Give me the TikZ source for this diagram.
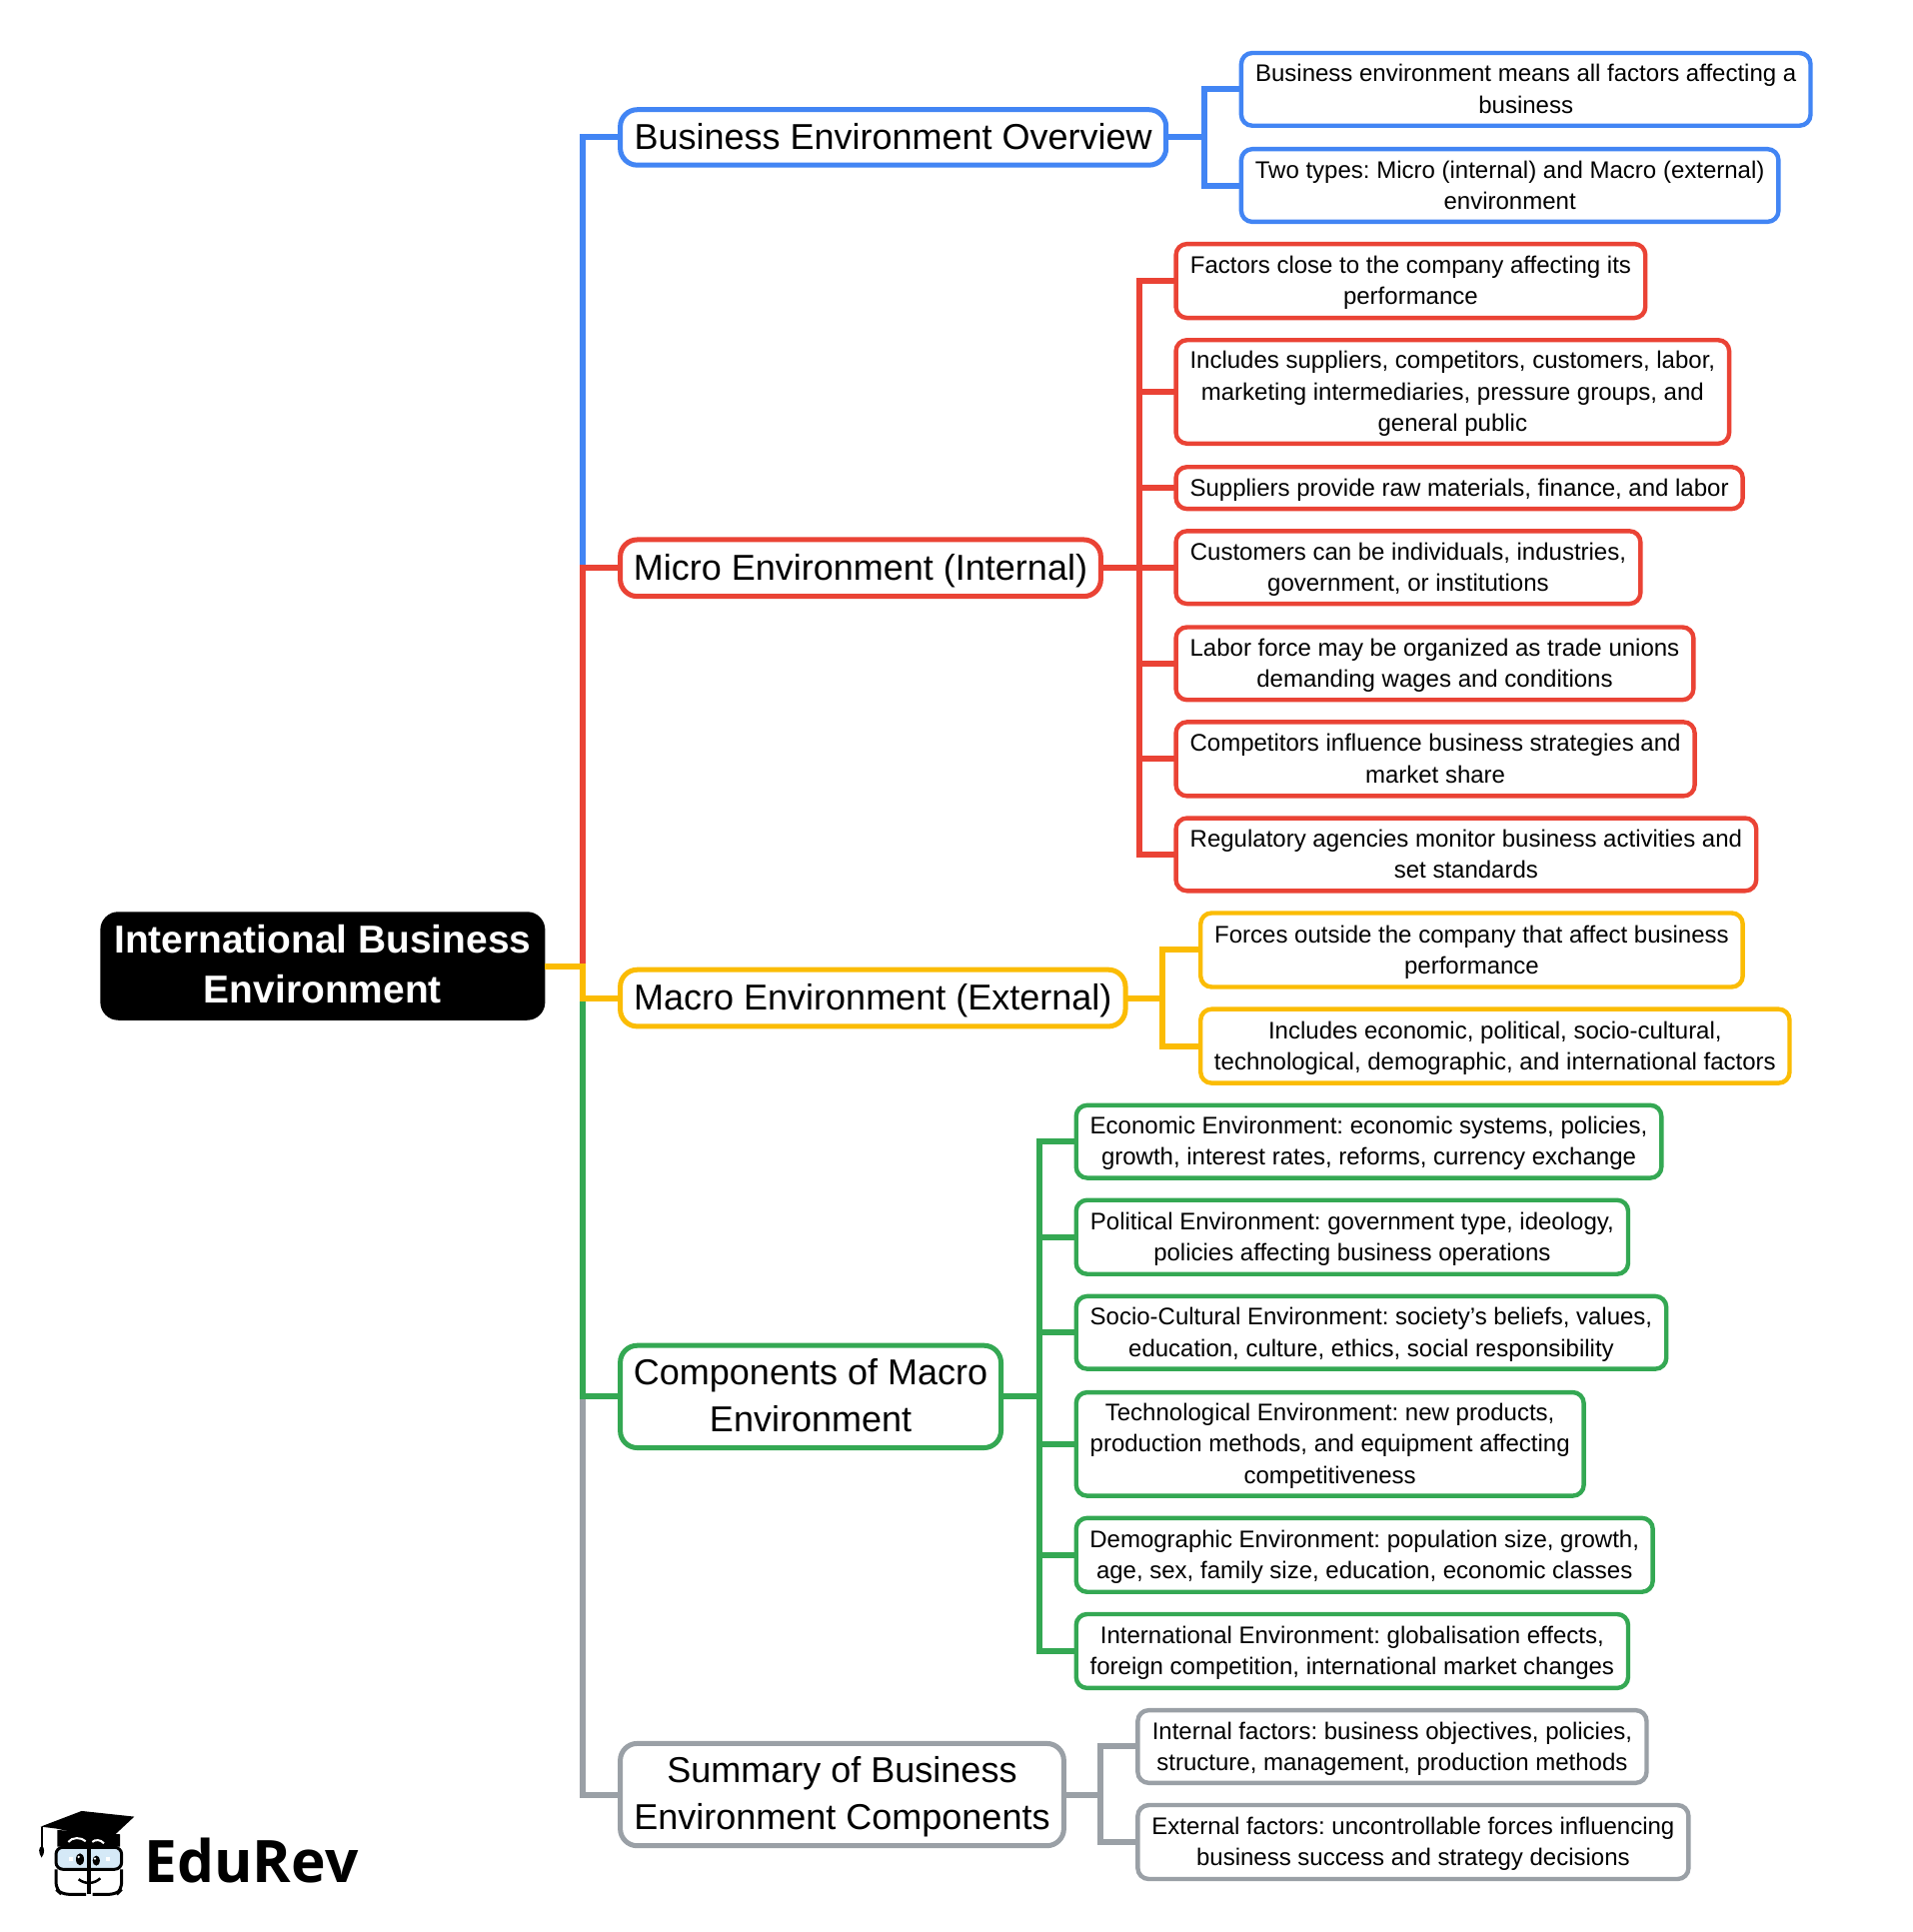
\documentclass[tikz,border=0pt]{standalone}
\usepackage{fontspec}
\setmainfont{Liberation Sans}
\newfontfamily\logofont{Open Sans}
\frenchspacing
\definecolor{cblue}{HTML}{4285F4}
\definecolor{cred}{HTML}{EA4335}
\definecolor{cyel}{HTML}{FBBC04}
\definecolor{cgrn}{HTML}{34A853}
\definecolor{cgry}{HTML}{9AA0A6}
\definecolor{cface}{HTML}{D5E9F7}
\newcommand{\bx}[7]{%
 \node[#6, minimum width={(#4-#2)*1.2326pt}, minimum height={(#5-#3)*1.2326pt}] (#1) at ({(#2+#4)/2+0.4},{(#3+#5)/2}) {\vrule width 0pt height \dimexpr\ht\strutbox+\tdropval\relax\relax #7\strut};}
\tikzset{
 tdrop/.store in=\tdropval,
 base/.style={rectangle, align=center, inner sep=0pt, outer sep=0pt, text=black, fill=white},
 lone/.style={base, tdrop=4.9pt, line width=5pt, rounded corners=17pt, font=\fontsize{36}{47}\selectfont},
 ltwo/.style={base, tdrop=3.8pt, line width=4.4pt, rounded corners=11pt, font=\fontsize{24}{31.2}\selectfont},
 rootbox/.style={base, tdrop=4.9pt, fill=black, text=white, rounded corners=18pt, font=\fontsize{38.9}{50}\selectfont\bfseries},
 wire/.style={line width=6pt, line join=miter}
}
\begin{document}
\begin{tikzpicture}[x=1.2326pt,y=-1.2326pt]
\useasboundingbox (0,0) rectangle (1552,1568);
\fill[white] (0,0) rectangle (1552,1568);
\bx{root}{81}{740}{442}{828}{rootbox}{International Business\\Environment}
\bx{over}{503}{89}{946}{134}{lone,draw=cblue}{Business Environment Overview}
\bx{micro}{503}{438}{893}{484}{lone,draw=cred}{Micro Environment (Internal)}
\bx{macro}{503}{787}{913}{833}{lone,draw=cyel}{Macro Environment (External)}
\bx{comp}{503}{1092}{812}{1175}{lone,draw=cgrn}{Components of Macro\\Environment}
\bx{summ}{503}{1415}{863}{1498}{lone,draw=cgry}{Summary of Business\\Environment Components}
\bx{ba}{1007}{43}{1469}{102}{ltwo,draw=cblue}{Business environment means all factors affecting a\\business}
\bx{bb}{1007}{121}{1443}{180}{ltwo,draw=cblue}{Two types: Micro (internal) and Macro (external)\\environment}
\bx{ra}{954}{198}{1335}{258}{ltwo,draw=cred}{Factors close to the company affecting its\\performance}
\bx{rb}{954}{276}{1403}{360}{ltwo,draw=cred}{Includes suppliers, competitors, customers, labor,\\marketing intermediaries, pressure groups, and\\general public}
\bx{rc}{954}{379}{1414}{413}{ltwo,draw=cred}{Suppliers provide raw materials, finance, and labor}
\bx{rd}{954}{431}{1331}{490}{ltwo,draw=cred}{Customers can be individuals, industries,\\government, or institutions}
\bx{re}{954}{509}{1374}{568}{ltwo,draw=cred}{Labor force may be organized as trade unions\\demanding wages and conditions}
\bx{rf}{954}{586}{1375}{646}{ltwo,draw=cred}{Competitors influence business strategies and\\market share}
\bx{rg}{954}{664}{1425}{723}{ltwo,draw=cred}{Regulatory agencies monitor business activities and\\set standards}
\bx{ya}{974}{741}{1414}{801}{ltwo,draw=cyel}{Forces outside the company that affect business\\performance}
\bx{yb}{974}{819}{1452}{879}{ltwo,draw=cyel}{Includes economic, political, socio-cultural,\\technological, demographic, and international factors}
\bx{ga}{873}{897}{1348}{956}{ltwo,draw=cgrn}{Economic Environment: economic systems, policies,\\growth, interest rates, reforms, currency exchange}
\bx{gb}{873}{974}{1321}{1034}{ltwo,draw=cgrn}{Political Environment: government type, ideology,\\policies affecting business operations}
\bx{gc}{873}{1052}{1352}{1111}{ltwo,draw=cgrn}{Socio-Cultural Environment: society's beliefs, values,\\education, culture, ethics, social responsibility}
\bx{gd}{873}{1130}{1285}{1214}{ltwo,draw=cgrn}{Technological Environment: new products,\\production methods, and equipment affecting\\competitiveness}
\bx{ge}{873}{1232}{1341}{1292}{ltwo,draw=cgrn}{Demographic Environment: population size, growth,\\age, sex, family size, education, economic classes}
\bx{gf}{873}{1310}{1321}{1370}{ltwo,draw=cgrn}{International Environment: globalisation effects,\\foreign competition, international market changes}
\bx{sa}{923}{1388}{1336}{1447}{ltwo,draw=cgry}{Internal factors: business objectives, policies,\\structure, management, production methods}
\bx{sb}{923}{1465}{1370}{1525}{ltwo,draw=cgry}{External factors: uncontrollable forces influencing\\business success and strategy decisions}
% connectors
\draw[wire,cblue] (root.east) -- ++(30.5,0) |- (over.west);
\draw[wire,cgry] (root.east) -- ++(30.5,0) |- (summ.west);
\draw[wire,cred] (root.east) -- ++(30.5,0) |- (micro.west);
\draw[wire,cgrn] (root.east) -- ++(30.5,0) |- (comp.west);
\draw[wire,cyel] (root.east) -- ++(30.5,0) |- (macro.west);
\foreach \c in {ba,bb}{\draw[wire,cblue] (over.east) -- ++(31,0) |- (\c.west);}
\foreach \c in {ra,rb,rc,rd,re,rf,rg}{\draw[wire,cred] (micro.east) -- ++(31,0) |- (\c.west);}
\foreach \c in {ya,yb}{\draw[wire,cyel] (macro.east) -- ++(30,0) |- (\c.west);}
\foreach \c in {ga,gb,gc,gd,ge,gf}{\draw[wire,cgrn] (comp.east) -- ++(31,0) |- (\c.west);}
\foreach \c in {sa,sb}{\draw[wire,cgry] (summ.east) -- ++(30,0) |- (\c.west);}
% logo, in zoomed pixels
\begin{scope}[shift={(20pt,-1790pt)},x=0.3333pt,y=-0.3333pt]
\fill[black] (112,122) -- (300,135) -- (300,172) -- (112,172) -- cycle;
\fill[black] (62,112) -- (185,65) -- (343,82) -- (268,152) -- (110,118) -- cycle;
\draw[black,line width=2pt] (65,113) -- (65,172);
\fill[black] (65,170) .. controls (55,175) and (55,190) .. (65,205) .. controls (75,190) and (75,175) .. (65,170) -- cycle;
\draw[white,line width=2pt] (145,158) .. controls (155,143) and (185,143) .. (197,156);
\draw[white,line width=2pt] (217,158) .. controls (225,150) and (242,150) .. (252,162);
\draw[black,line width=3pt,fill=cface,rounded corners=7pt] (108,174) rectangle (305,240);
\draw[black,line width=3pt,rounded corners=7pt] (198,315) -- (125,315) -- (108,300) -- (108,240);
\draw[black,line width=3pt,rounded corners=7pt] (218,315) -- (290,315) -- (305,300) -- (305,240);
\draw[black,line width=3.5pt] (207,172) -- (207,315);
\fill[black] (180,210) ellipse (12 and 18);
\fill[black] (229,214) ellipse (11 and 15);
\fill[white] (176,203) circle (4);
\fill[white] (225,208) circle (4);
\fill[white] (146,203) rectangle (160,216);
\fill[white] (257,203) rectangle (271,216);
\draw[black,line width=2.5pt] (176,270) .. controls (195,285) and (222,285) .. (241,267);
\node[anchor=base west,inner sep=0pt,font=\logofont\fontsize{58.6}{60}\selectfont\bfseries,text=black] (brand) at (373,280) {EduRev};
\end{scope}
\end{tikzpicture}
\end{document}
